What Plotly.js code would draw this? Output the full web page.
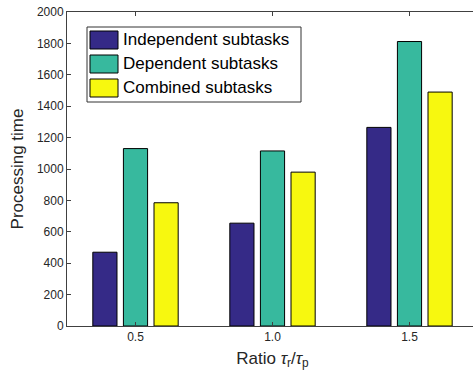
<!DOCTYPE html>
<html>
<head>
<meta charset="utf-8">
<script src="https://cdn.plot.ly/plotly-3.0.1.min.js"></script>
<style>
html, body { margin: 0; padding: 0; overflow: hidden; background: #fff; }
#chart { width: 490px; height: 379px; }
</style>
</head>
<body>
<div id="chart"></div>
<script>
const ratios = ['0.5', '1.0', '1.5'];
const independent = [470, 655, 1265];
const dependent = [1130, 1115, 1812];
const combined = [785, 980, 1490];
const seriesNames = ['Independent subtasks', 'Dependent subtasks', 'Combined subtasks'];
const seriesColors = ['#352a87', '#37b99e', '#f7f80f'];
const yTicks = [0, 200, 400, 600, 800, 1000, 1200, 1400, 1600, 1800, 2000];

const seriesValues = [independent, dependent, combined];
const traces = seriesValues.map((vals, i) => ({
  type: 'bar',
  x: ratios,
  y: vals,
  name: seriesNames[i],
  marker: { color: seriesColors[i], line: { color: '#000', width: 1 } },
  showlegend: false,
  hoverinfo: 'skip'
}));

// custom legend (box + swatches + labels) in paper coordinates
const W = 411, H = 314;
const px = v => (v - 67) / W;
const py = v => (326 - v) / H;
const shapes = [{
  type: 'rect', xref: 'paper', yref: 'paper',
  x0: px(87), x1: px(301), y0: py(102), y1: py(27),
  line: { color: '#333', width: 1 }, fillcolor: '#fff', layer: 'above'
}];
const annotations = [];
const rowCenters = [40, 64, 88];
seriesNames.forEach((n, i) => {
  const c = rowCenters[i];
  shapes.push({
    type: 'rect', xref: 'paper', yref: 'paper',
    x0: px(90), x1: px(118), y0: py(c + 9), y1: py(c - 9),
    line: { color: '#000', width: 1 }, fillcolor: seriesColors[i], layer: 'above'
  });
  annotations.push({
    xref: 'paper', yref: 'paper', x: px(121), y: py(c),
    xanchor: 'left', yanchor: 'middle', showarrow: false,
    text: n, font: { size: 17, color: '#000', family: 'Liberation Sans, Arial, sans-serif' }
  });
});

const layout = {
  width: 490, height: 379,
  margin: { l: 67, r: 12, t: 12, b: 53 },
  paper_bgcolor: '#fff', plot_bgcolor: '#fff',
  font: { family: 'Liberation Sans, Arial, sans-serif', color: '#262626' },
  barmode: 'group',
  bargap: 0.33,
  bargroupgap: 0.21,
  xaxis: {
    type: 'category',
    range: [-0.5, 2.5],
    showline: true, linecolor: '#404040', linewidth: 1, mirror: 'ticks',
    ticks: 'inside', ticklen: 4, tickcolor: '#404040',
    tickfont: { size: 12, color: '#262626' },
    showgrid: false, zeroline: false,
    title: { text: 'Ratio <i>τ</i><sub>r</sub>/<i>τ</i><sub>p</sub>', font: { size: 17, color: '#262626' }, standoff: 8 }
  },
  yaxis: {
    range: [0, 2000],
    tickvals: yTicks,
    showline: true, linecolor: '#404040', linewidth: 1, mirror: 'ticks',
    ticks: 'inside', ticklen: 4, tickcolor: '#404040',
    tickfont: { size: 12, color: '#262626' },
    showgrid: false, zeroline: false,
    title: { text: 'Processing time', font: { size: 17, color: '#262626' }, standoff: 8 }
  },
  shapes: shapes,
  annotations: annotations
};

Plotly.newPlot('chart', traces, layout, { displayModeBar: false, staticPlot: true });
</script>
</body>
</html>
